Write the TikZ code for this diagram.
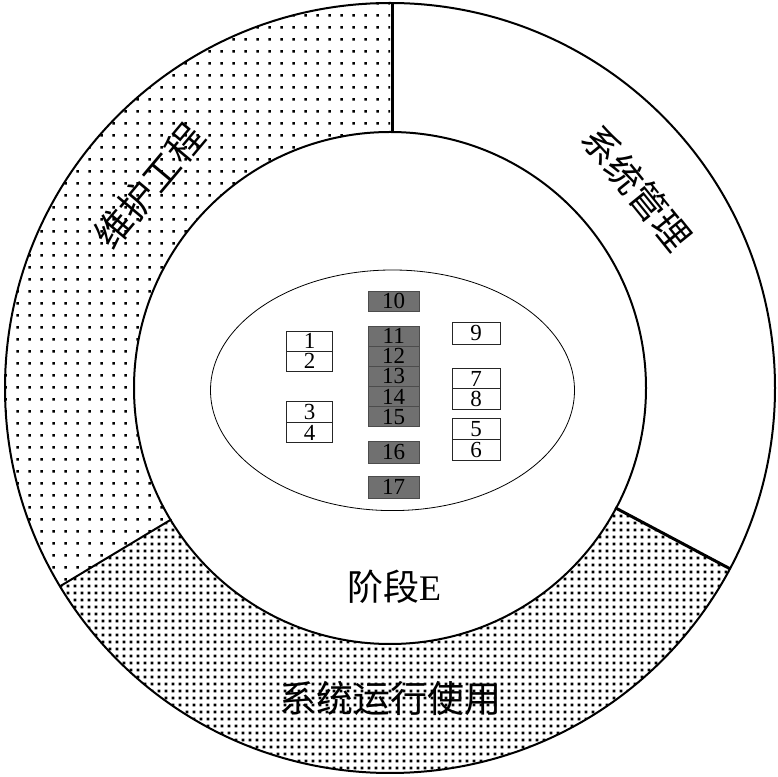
\documentclass[tikz,border=0pt]{standalone}
\usepackage{fontspec}
\setmainfont{Liberation Serif}
\newfontfamily\cjk{Noto Sans CJK SC}
\usetikzlibrary{patterns,calc}
\pgfdeclarepatternformonly{sparsedots}{\pgfqpoint{0pt}{0pt}}{\pgfqpoint{12pt}{12pt}}{\pgfqpoint{12pt}{12pt}}{\pgfpathrectangle{\pgfqpoint{4.6pt}{4.6pt}}{\pgfqpoint{2.8pt}{2.8pt}}\pgfusepath{fill}}
\pgfdeclarepatternformonly{densedots}{\pgfqpoint{0pt}{0pt}}{\pgfqpoint{6.5pt}{6.5pt}}{\pgfqpoint{6.5pt}{6.5pt}}{\pgfpathrectangle{\pgfqpoint{1.8pt}{1.8pt}}{\pgfqpoint{2.9pt}{2.9pt}}\pgfusepath{fill}}
\definecolor{cellgray}{RGB}{112,112,112}
\tikzset{
  ring/.style={line width=2pt},
  cell/.style={draw=black!85, line width=0.8pt, inner sep=0pt, font=\fontsize{23}{23}\selectfont},
  darkcell/.style={cell, fill=cellgray, draw=black!70},
  lwide/.style={minimum width=45.6pt},
  rwide/.style={minimum width=47.7pt},
  mwide/.style={minimum width=50.7pt},
  bigcjk/.style={font=\cjk\fontsize{37}{37}\selectfont},
}
\begin{document}
\begin{tikzpicture}[x=1pt,y=1pt]
\useasboundingbox (0,0) rectangle (777,777);
\coordinate (C) at (390,389);
% sectors
\path[pattern=sparsedots] ($(C)+(90:385)$) arc[start angle=90,end angle=211,radius=385]
  -- ($(C)+(211:256)$) arc[start angle=211,end angle=90,radius=256] -- cycle;
\path[pattern=densedots] ($(C)+(211:385)$) arc[start angle=211,end angle=332,radius=385]
  -- ($(C)+(332:256)$) arc[start angle=332,end angle=211,radius=256] -- cycle;
% rings
\draw[ring] (C) circle[radius=385];
\draw[ring] (C) circle[radius=256];
% boundaries
\draw[line width=3pt] (392.5,645) -- (392.5,774.5);
\draw[line width=3pt] ($(C)+(332:255)$) -- ($(C)+(332:385)$);
\draw[line width=2pt] ($(C)+(211:255)$) -- ($(C)+(211:385)$);
% ellipse
\draw[line width=0.8pt] (392.5,386.7) ellipse[x radius=182, y radius=120.3];
% centre column
\node[darkcell, mwide, minimum height=20.7pt] (c10) at (393.7,475.6) {10};
\node[darkcell, mwide, minimum height=20.1pt] (c11) at (393.7,440.9) {11};
\node[darkcell, mwide, minimum height=20.1pt] (c12) at (393.7,420.8) {12};
\node[darkcell, mwide, minimum height=20.1pt] (c13) at (393.7,400.7) {13};
\node[darkcell, mwide, minimum height=20.1pt] (c14) at (393.7,380.5) {14};
\node[darkcell, mwide, minimum height=20.1pt] (c15) at (393.7,360.4) {15};
\node[darkcell, mwide, minimum height=22pt] (c16) at (393.7,324.8) {16};
\node[darkcell, mwide, minimum height=22pt] (c17) at (393.7,290) {17};
% left column
\node[cell, lwide, minimum height=20pt] (c1) at (309.5,436) {1};
\node[cell, lwide, minimum height=20pt] (c2) at (309.5,416) {2};
\node[cell, lwide, minimum height=20.8pt] (c3) at (309.5,365.3) {3};
\node[cell, lwide, minimum height=20.8pt] (c4) at (309.5,344.5) {4};
% right column
\node[cell, rwide, minimum height=21.3pt] (c9) at (476.2,443.6) {9};
\node[cell, rwide, minimum height=20.8pt] (c7) at (476.2,398.5) {7};
\node[cell, rwide, minimum height=20.8pt] (c8) at (476.2,377.7) {8};
\node[cell, rwide, minimum height=21pt] (c5) at (476.2,348.1) {5};
\node[cell, rwide, minimum height=21pt] (c6) at (476.2,327) {6};
% labels
\node[bigcjk, rotate=-51] (mgmt) at ($(C)+(39:318)$) {系统管理};
\node[bigcjk, rotate=50] (maint) at ($(C)+(140:314)$) {维护工程};
\node[bigcjk] (oper) at (390.5,79) {系统运行使用};
\node[font=\fontsize{36}{36}\selectfont] (stage) at (394,190) {{\cjk 阶段}E};
\end{tikzpicture}
\end{document}
